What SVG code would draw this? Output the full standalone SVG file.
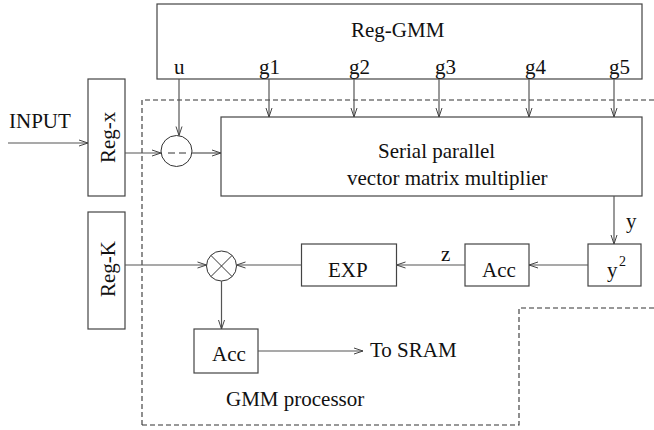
<svg xmlns="http://www.w3.org/2000/svg" width="654" height="430" viewBox="0 0 654 430">
  <style>
    .box { fill: #fff; stroke: #444; stroke-width: 1.2; }
    .op { fill: #fff; stroke: #333; stroke-width: 1; }
    .wire { fill: none; stroke: #555; stroke-width: 1.2; marker-end: url(#arrow); }
    .plain { fill: none; stroke: #333; stroke-width: 1; }
    .dash { fill: none; stroke: #333; stroke-width: 1.1; stroke-dasharray: 5 3; }
    text { font-family: "Liberation Serif", "Times New Roman", serif; font-size: 21px; fill: #111; }
    .sup { font-size: 14px; }
  </style>
  <defs>
    <marker id="arrow" viewBox="0 0 10 8" refX="10" refY="4" markerWidth="10" markerHeight="8" markerUnits="userSpaceOnUse" orient="auto">
      <path d="M1,1 L10,4 L1,7" fill="none" stroke="#444" stroke-width="1"/>
    </marker>
  </defs>

  <!-- processor boundary -->
  <g id="gmm-processor">
    <path class="dash" d="M142,425 V100 H654"/>
    <path class="dash" d="M142,425 H519 V308 H654"/>
    <text x="226" y="406">GMM processor</text>
  </g>

  <g id="input-label">
    <text x="9" y="128">INPUT</text>
  </g>

  <g id="reg-gmm">
    <rect class="box" x="157" y="4" width="485" height="75"/>
    <text x="351" y="37">Reg-GMM</text>
    <text x="174" y="74">u</text>
    <text x="259" y="74">g1</text>
    <text x="349" y="74">g2</text>
    <text x="435" y="74">g3</text>
    <text x="525" y="74">g4</text>
    <text x="609" y="74">g5</text>
  </g>

  <g id="reg-x">
    <rect class="box" x="88" y="79" width="37" height="117"/>
    <text transform="translate(115,163) rotate(-90)">Reg-x</text>
  </g>

  <g id="reg-k">
    <rect class="box" x="88" y="212" width="37" height="117"/>
    <text transform="translate(115,297) rotate(-90)">Reg-K</text>
  </g>

  <g id="subtract">
    <circle class="op" cx="176.5" cy="151" r="15.5"/>
    <path class="plain" d="M168,153 H186" stroke-dasharray="7 4"/>
  </g>

  <g id="multiplier">
    <rect class="box" x="221" y="117" width="421" height="79"/>
    <text x="378" y="158">Serial parallel</text>
    <text x="347" y="185">vector matrix multiplier</text>
  </g>

  <g id="square">
    <rect class="box" x="588" y="244" width="53" height="42"/>
    <text x="607" y="277">y</text>
    <text class="sup" x="619" y="266">2</text>
  </g>

  <g id="acc-sum">
    <rect class="box" x="465" y="244" width="64" height="42"/>
    <text x="482" y="277">Acc</text>
  </g>

  <g id="exp">
    <rect class="box" x="301.5" y="244" width="95" height="42"/>
    <text x="328" y="277">EXP</text>
  </g>

  <g id="product">
    <circle class="op" cx="221.5" cy="266" r="15"/>
    <path class="plain" d="M210.9,255.4 L232.1,276.6 M232.1,255.4 L210.9,276.6"/>
  </g>

  <g id="acc-out">
    <rect class="box" x="194" y="329" width="64" height="44"/>
    <text x="212" y="361">Acc</text>
  </g>

  <g id="sram-label">
    <text x="370" y="357">To SRAM</text>
  </g>

  <!-- signal flow -->
  <g id="connectors">
    <path class="wire" d="M8,143 H88"/>
    <path class="wire" d="M125,153 H161"/>
    <path class="wire" d="M179,79 V135.5"/>
    <path class="wire" d="M192,153 H221"/>
    <path class="wire" d="M269,79 V117"/>
    <path class="wire" d="M354,79 V117"/>
    <path class="wire" d="M439,79 V117"/>
    <path class="wire" d="M529,79 V117"/>
    <path class="wire" d="M614,79 V117"/>
    <path class="wire" d="M614,196 V244"/>
    <text x="626" y="228">y</text>
    <path class="wire" d="M588,265 H529"/>
    <path class="wire" d="M465,265 H396.5"/>
    <text x="441" y="261">z</text>
    <path class="wire" d="M301.5,265 H236.5"/>
    <path class="wire" d="M125,265 H206.5"/>
    <path class="wire" d="M221.5,281 V329"/>
    <path class="wire" d="M258,351 H363"/>
  </g>
</svg>
